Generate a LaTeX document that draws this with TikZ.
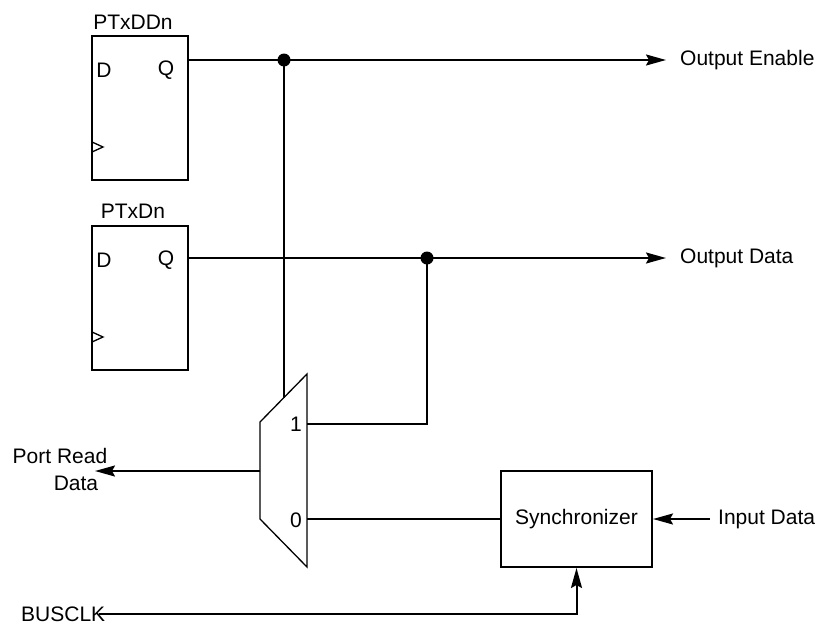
\documentclass[tikz,border=0pt]{standalone}
\usepackage{fontspec}
\setmainfont{Liberation Sans}
\usetikzlibrary{arrows.meta}
\begin{document}
\begin{tikzpicture}[x=1pt,y=-1pt,
  wire/.style={line width=2pt},
  thinline/.style={line width=1.3pt},
  ffbox/.style={draw, line width=2pt, minimum width=96pt, minimum height=144pt, inner sep=0pt},
  syncbox/.style={draw, line width=2pt, minimum width=151pt, minimum height=96pt, inner sep=0pt},
  lbl/.style={font=\fontsize{21}{25}\selectfont, inner sep=0pt},
  sig/.style={wire, -{Stealth[length=20pt,width=11pt,inset=3pt]}},
  jdot/.style={circle, fill, inner sep=0pt, minimum size=13pt}]
\useasboundingbox (0,0) rectangle (817,627);

% flip-flops
\node[ffbox] (ff1) at (140,108) {};
\node[ffbox] (ff2) at (140,298) {};
\node[lbl] (ff1name) at (133,22) {PTxDDn};
\node[lbl] (ff2name) at (133,211) {PTxDn};
\node[lbl] (d1) at (104,70) {D};
\node[lbl] (q1) at (166,70) {Q};
\node[lbl] (d2) at (104,260) {D};
\node[lbl] (q2) at (166,260) {Q};
\draw[thinline] (92,142) -- (103,147) -- (92,152);
\draw[thinline] (92,332) -- (103,337) -- (92,342);

% junctions
\node[jdot] (j1) at (284,60) {};
\node[jdot] (j2) at (427,258) {};

% outputs
\node[lbl, anchor=west] (oet) at (680,60) {Output Enable};
\node[lbl, anchor=west] (odt) at (680,258) {Output Data};
\draw[sig, shorten >=14pt] (ff1.east |- j1) -- (oet.west);
\draw[sig, shorten >=14pt] (ff2.east |- j2) -- (odt.west);

% mux
\coordinate (m1) at (260,422);
\coordinate (m2) at (307,374);
\coordinate (m3) at (307,567);
\coordinate (m4) at (260,519);
\draw[thinline] (m1) -- (m2) -- (m3) -- (m4) -- cycle;
\coordinate (mtop) at (284,397.5);
\coordinate (in1) at (307,424);
\coordinate (in0) at (307,519);
\coordinate (mout) at (260,471);
\node[lbl] (l1) at (296,424) {1};
\node[lbl] (l0) at (296,520) {0};
\draw[wire] (j1.center) -- (mtop);
\draw[wire] (j2.center) |- (in1);

% synchronizer
\node[syncbox, lbl, draw] (sync) at (576.5,519) {Synchronizer};
\draw[wire] (sync.west) -- (in0);
\node[lbl, anchor=west] (idt) at (718,519) {Input Data};
\draw[sig] ([xshift=-8pt]idt.west) -- (sync.east);

% port read
\node[lbl] (pr1) at (60,456) {Port Read};
\node[lbl] (pr2) at (76,483) {Data};
\coordinate (prtip) at (95,471);
\draw[sig] (mout) -- (prtip);

% busclk
\node[lbl, anchor=west] (bus) at (21,614) {BUSCLK};
\draw[sig] ([xshift=-6pt]bus.east) -| (sync.south);
\end{tikzpicture}
\end{document}
